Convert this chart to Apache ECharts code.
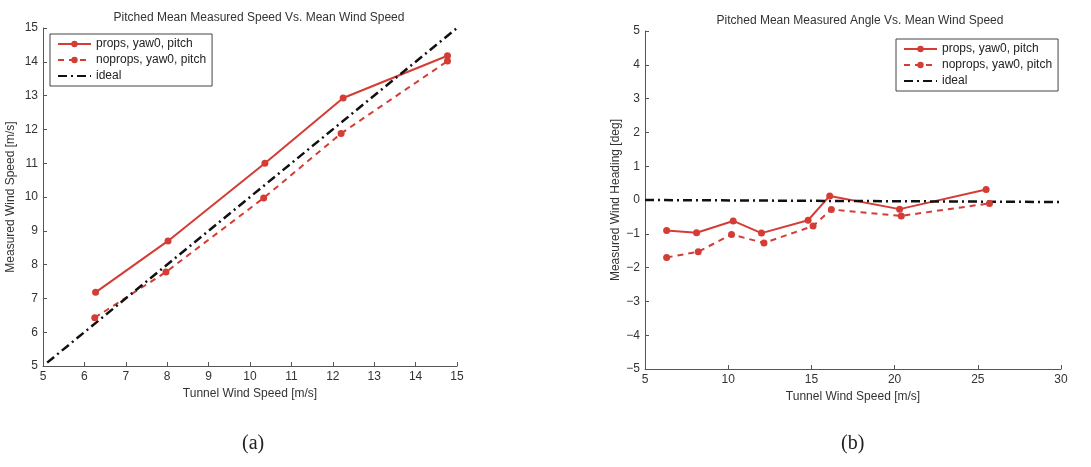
<!DOCTYPE html>
<html>
<head>
<meta charset="utf-8">
<script src="https://cdn.jsdelivr.net/npm/echarts@6/dist/echarts.min.js"></script>
<style>
html,body{margin:0;padding:0;background:#fff;}
#c{width:1091px;height:467px;}
</style>
</head>
<body>
<div id="c"></div>
<script>
// ---- Data ----
// Chart (a): Measured speed vs tunnel speed
const speedPropsX   = [6.27, 8.02, 10.36, 12.25, 14.77];
const speedPropsY   = [7.18, 8.70, 11.00, 12.93, 14.18];
const speedNopropsX = [6.25, 7.97, 10.33, 12.20, 14.77];
const speedNopropsY = [6.43, 7.78, 9.97, 11.88, 14.02];
const speedIdealX   = [5.1, 15.0];
const speedIdealY   = [5.1, 15.0];

// Chart (b): Measured heading vs tunnel speed
const anglePropsX   = [6.3, 8.1, 10.3, 12.0, 14.8, 16.1, 20.3, 25.5];
const anglePropsY   = [-0.90, -0.97, -0.62, -0.98, -0.60, 0.12, -0.27, 0.31];
const angleNopropsX = [6.3, 8.2, 10.2, 12.15, 15.1, 16.2, 20.4, 25.7];
const angleNopropsY = [-1.70, -1.53, -1.02, -1.27, -0.77, -0.28, -0.47, -0.10];
const angleIdealX   = [5, 30];
const angleIdealY   = [0, -0.06];

const seriesNames = ['props, yaw0, pitch', 'noprops, yaw0, pitch', 'ideal'];
const titles = ['Pitched Mean Measured Speed Vs. Mean Wind Speed', 'Pitched Mean Measured Angle Vs. Mean Wind Speed'];
const xNames = ['Tunnel Wind Speed [m/s]', 'Tunnel Wind Speed [m/s]'];
const yNames = ['Measured Wind Speed [m/s]', 'Measured Wind Heading [deg]'];
const captions = ['(a)', '(b)'];

function zip(xs, ys){ return xs.map((x,i)=>[x, ys[i]]); }

const RED = '#d43c36';
const AXIS = '#555';
const FONT = 'Liberation Sans, Arial, sans-serif';

function axisCommon(){
  return {
    axisLine:{show:true, onZero:false, lineStyle:{color:AXIS, width:1}},
    axisTick:{show:true, inside:true, length:4, lineStyle:{color:AXIS}},
    axisLabel:{color:'#333', fontSize:12, fontFamily:FONT, margin:5},
    splitLine:{show:false},
    nameLocation:'middle',
    nameTextStyle:{color:'#333', fontSize:12, fontFamily:FONT}
  };
}

function mkSeries(idx, px, py, nx, ny, ix, iy){
  return [
    {name:seriesNames[0], type:'line', xAxisIndex:idx, yAxisIndex:idx, data:zip(px,py),
     symbol:'circle', symbolSize:7, lineStyle:{color:RED, width:2}, itemStyle:{color:RED}, animation:false},
    {name:seriesNames[1], type:'line', xAxisIndex:idx, yAxisIndex:idx, data:zip(nx,ny),
     symbol:'circle', symbolSize:7, lineStyle:{color:RED, width:2, type:[6,5]}, itemStyle:{color:RED}, animation:false},
    {name:seriesNames[2], type:'line', xAxisIndex:idx, yAxisIndex:idx, data:zip(ix,iy),
     symbol:'none', lineStyle:{color:'#111', width:2.5, type:[9,4,2,4]}, itemStyle:{color:'#111'}, animation:false}
  ];
}

function legendData(){
  return [
    {name:seriesNames[0]},
    {name:seriesNames[1]},
    {name:seriesNames[2], itemStyle:{opacity:0}}
  ];
}

const legendCommon = {orient:'vertical', itemWidth:33, itemHeight:8, itemGap:4,
  padding:[4,6,4,7], borderColor:'#444', borderWidth:1, backgroundColor:'#fff',
  textStyle:{fontSize:12, color:'#222', fontFamily:FONT}, selectedMode:false};

const chart = echarts.init(document.getElementById('c'), null, {renderer:'canvas'});
const option = {
  backgroundColor:'#fff',
  animation:false,
  title:[
    {text:titles[0], left:254, top:7, textAlign:'center', textStyle:{fontSize:12, fontWeight:'normal', color:'#333', fontFamily:FONT}},
    {text:titles[1], left:855, top:10, textAlign:'center', textStyle:{fontSize:12, fontWeight:'normal', color:'#333', fontFamily:FONT}}
  ],
  legend:[
    Object.assign({}, legendCommon, {data:legendData(), left:50, top:34}),
    Object.assign({}, legendCommon, {data:legendData(), left:896, top:39})
  ],
  grid:[
    {left:43, top:28, width:414, height:338},
    {left:645, top:31, width:416, height:338}
  ],
  xAxis:[
    Object.assign(axisCommon(), {type:'value', gridIndex:0, min:5, max:15, interval:1, name:xNames[0], nameGap:22}),
    Object.assign(axisCommon(), {type:'value', gridIndex:1, min:5, max:30, interval:5, name:xNames[1], nameGap:22})
  ],
  yAxis:[
    Object.assign(axisCommon(), {type:'value', gridIndex:0, min:5, max:15, interval:1, name:yNames[0], nameGap:26}),
    Object.assign(axisCommon(), {type:'value', gridIndex:1, min:-5, max:5, interval:1, name:yNames[1], nameGap:23,
      axisLabel:{color:'#333', fontSize:12, fontFamily:FONT, margin:5, formatter:v=>String(v).replace('-','\u2212')}})
  ],
  series:[].concat(
    mkSeries(0, speedPropsX, speedPropsY, speedNopropsX, speedNopropsY, speedIdealX, speedIdealY),
    mkSeries(1, anglePropsX, anglePropsY, angleNopropsX, angleNopropsY, angleIdealX, angleIdealY)
  ),
  graphic:[
    {type:'text', left:242, top:434, style:{text:captions[0], fontSize:20, fontFamily:'Liberation Serif, DejaVu Serif, serif', fill:'#222'}},
    {type:'text', left:841, top:434, style:{text:captions[1], fontSize:20, fontFamily:'Liberation Serif, DejaVu Serif, serif', fill:'#222'}}
  ]
};
chart.setOption(option);
</script>
</body>
</html>
